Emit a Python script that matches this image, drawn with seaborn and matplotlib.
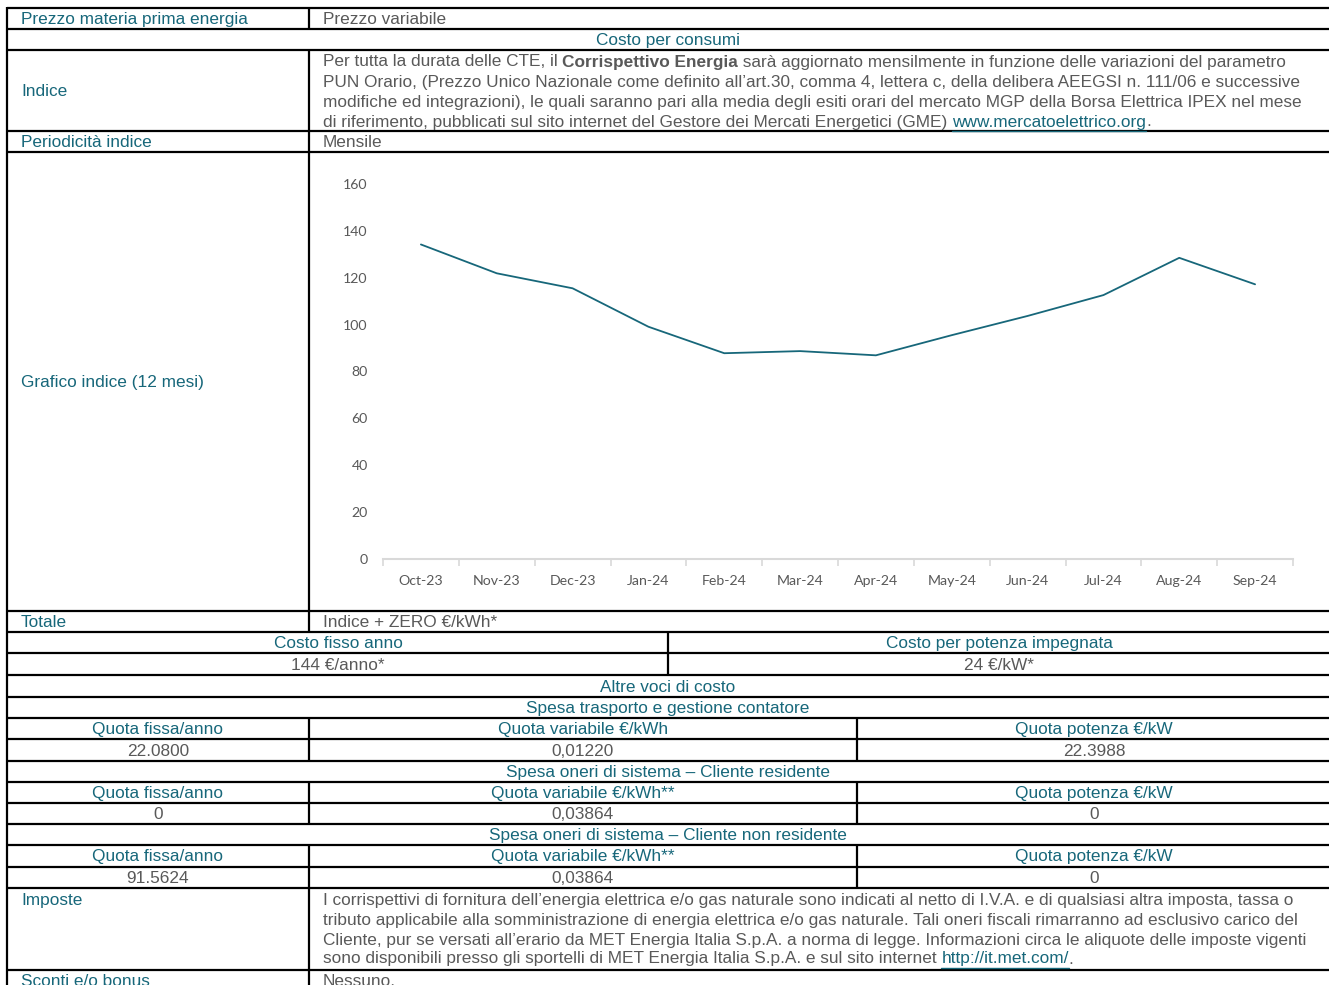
import matplotlib
matplotlib.use("Agg")
import matplotlib.pyplot as plt
import seaborn as sns
import pandas as pd
from matplotlib.ticker import FixedLocator, NullFormatter

sns.set_theme(style="white")
plt.rcParams['font.family'] = ['Liberation Sans', 'DejaVu Sans']

# ---- data ----
months = ["Oct-23", "Nov-23", "Dec-23", "Jan-24", "Feb-24", "Mar-24",
          "Apr-24", "May-24", "Jun-24", "Jul-24", "Aug-24", "Sep-24"]
pun = [134.2, 121.9, 115.5, 99.1, 87.8, 88.7, 86.9, 95.5, 103.7, 112.6, 128.5, 117.2]
y_ticks = [0, 20, 40, 60, 80, 100, 120, 140, 160]

W, H = 1329, 985
TEAL = "#17677a"
GREY = "#595959"
FS = 12.45
DY = 1.0

fig = plt.figure(figsize=(W / 100, H / 100), dpi=100)
tab = fig.add_axes([0, 0, 1, 1])
tab.set_xlim(0, W)
tab.set_ylim(H, 0)
tab.axis("off")

renderer = fig.canvas.get_renderer()


def hline(y, x0=7, x1=W):
    tab.plot([x0, x1], [y, y], color="black", lw=1.6, solid_capstyle="butt")


def vline(x, y0, y1):
    tab.plot([x, x], [y0, y1], color="black", lw=1.6, solid_capstyle="butt")


def txt(x, y, s, color=GREY, ha="left", **kw):
    return tab.text(x, y + DY, s, color=color, ha=ha, va="center", fontsize=FS, **kw)


def runs(x, y, parts):
    """parts: list of (text, color, weight, underline)"""
    inv = tab.transData.inverted()
    y = y + DY
    for s, color, weight, ul in parts:
        t = tab.text(x, y, s, color=color, ha="left", va="center",
                     fontsize=FS, fontweight=weight)
        bb = t.get_window_extent(renderer=renderer)
        (x0, _), (x1, _) = inv.transform([(bb.x0, bb.y0), (bb.x1, bb.y1)])
        if ul:
            tab.plot([x0, x1], [y + 9, y + 9], color=color, lw=1.0)
        x = x1


# ---- horizontal lines ----
for y in [8, 29, 50, 131, 152, 611, 632, 653, 675, 697, 718, 739, 761,
          782, 803, 824, 845, 867, 888, 970]:
    hline(y)

# ---- vertical lines ----
vline(7, 7, H)
vline(309, 8, 29)
vline(309, 50, 632)
vline(668, 632, 675)
for (a, b) in [(718, 761), (782, 824), (845, 888)]:
    vline(309, a, b)
    vline(857, a, b)
vline(309, 888, H)

# ---- text ----
LX, RX = 21, 323
txt(LX, 18.5, "Prezzo materia prima energia", TEAL)
txt(RX, 18.5, "Prezzo variabile")
txt(668, 39.5, "Costo per consumi", TEAL, ha="center")

txt(LX, 91, "Indice", TEAL)
runs(RX, 61, [("Per tutta la durata delle CTE, il ", GREY, "normal", False),
              ("Corrispettivo Energia", GREY, "bold", False),
              (" sarà aggiornato mensilmente in funzione delle variazioni del parametro", GREY, "normal", False)])
txt(RX, 81, "PUN Orario, (Prezzo Unico Nazionale come definito all’art.30, comma 4, lettera c, della delibera AEEGSI n. 111/06 e successive")
txt(RX, 101, "modifiche ed integrazioni), le quali saranno pari alla media degli esiti orari del mercato MGP della Borsa Elettrica IPEX nel mese")
runs(RX, 121, [("di riferimento, pubblicati sul sito internet del Gestore dei Mercati Energetici (GME) ", GREY, "normal", False),
               ("www.mercatoelettrico.org", TEAL, "normal", True),
               (".", GREY, "normal", False)])

txt(LX, 141.5, "Periodicità indice", TEAL)
txt(RX, 141.5, "Mensile")
txt(LX, 382, "Grafico indice (12 mesi)", TEAL)

txt(LX, 621.5, "Totale", TEAL)
txt(RX, 621.5, "Indice + ZERO €/kWh*")
txt(338, 642.5, "Costo fisso anno", TEAL, ha="center")
txt(999, 642.5, "Costo per potenza impegnata", TEAL, ha="center")
txt(338, 664, "144 €/anno*", ha="center")
txt(999, 664, "24 €/kW*", ha="center")
txt(668, 686, "Altre voci di costo", TEAL, ha="center")
txt(668, 707.5, "Spesa trasporto e gestione contatore", TEAL, ha="center")

C1, C2, C3 = 158, 583, 1094
txt(C1, 728.5, "Quota fissa/anno", TEAL, ha="center")
txt(C2, 728.5, "Quota variabile €/kWh", TEAL, ha="center")
txt(C3, 728.5, "Quota potenza €/kW", TEAL, ha="center")
txt(C1, 750, "22.0800", ha="center")
txt(C2, 750, "0,01220", ha="center")
txt(C3, 750, "22.3988", ha="center")

txt(668, 771.5, "Spesa oneri di sistema – Cliente residente", TEAL, ha="center")
txt(C1, 792.5, "Quota fissa/anno", TEAL, ha="center")
txt(C2, 792.5, "Quota variabile €/kWh**", TEAL, ha="center")
txt(C3, 792.5, "Quota potenza €/kW", TEAL, ha="center")
txt(C1, 813.5, "0", ha="center")
txt(C2, 813.5, "0,03864", ha="center")
txt(C3, 813.5, "0", ha="center")

txt(668, 834.5, "Spesa oneri di sistema – Cliente non residente", TEAL, ha="center")
txt(C1, 856, "Quota fissa/anno", TEAL, ha="center")
txt(C2, 856, "Quota variabile €/kWh**", TEAL, ha="center")
txt(C3, 856, "Quota potenza €/kW", TEAL, ha="center")
txt(C1, 877.5, "91.5624", ha="center")
txt(C2, 877.5, "0,03864", ha="center")
txt(C3, 877.5, "0", ha="center")

txt(LX, 899, "Imposte", TEAL)
txt(RX, 899, "I corrispettivi di fornitura dell’energia elettrica e/o gas naturale sono indicati al netto di I.V.A. e di qualsiasi altra imposta, tassa o")
txt(RX, 919, "tributo applicabile alla somministrazione di energia elettrica e/o gas naturale. Tali oneri fiscali rimarranno ad esclusivo carico del")
txt(RX, 939, "Cliente, pur se versati all’erario da MET Energia Italia S.p.A. a norma di legge. Informazioni circa le aliquote delle imposte vigenti")
runs(RX, 958, [("sono disponibili presso gli sportelli di MET Energia Italia S.p.A. e sul sito internet ", GREY, "normal", False),
               ("http://it.met.com/", TEAL, "normal", True),
               (".", GREY, "normal", False)])
txt(LX, 980, "Sconti e/o bonus", TEAL)
txt(RX, 980, "Nessuno.")

# ---- chart ----
ax_l, ax_r, ax_t, ax_b = 383, 1293, 184, 559
ax = fig.add_axes([ax_l / W, (H - ax_b) / H, (ax_r - ax_l) / W, (ax_b - ax_t) / H])
ax.patch.set_alpha(0)
df = pd.DataFrame({"month": months, "pun": pun})
sns.lineplot(data=df, x="month", y="pun", ax=ax, color=TEAL, lw=1.3, sort=False)
ax.set_xlim(-0.5, len(months) - 0.5)
ax.set_ylim(0, 160)
ax.set_yticks(y_ticks)
ax.set_xlabel("")
ax.set_ylabel("")
for s in ["top", "right", "left"]:
    ax.spines[s].set_visible(False)
ax.spines["bottom"].set_color("#d9d9d9")
ax.spines["bottom"].set_linewidth(1.5)
ax.grid(False)
ax.xaxis.set_minor_locator(FixedLocator([i - 0.5 for i in range(len(months) + 1)]))
ax.xaxis.set_minor_formatter(NullFormatter())
ax.tick_params(axis="x", which="minor", length=5, width=1.2, color="#d9d9d9", direction="out", bottom=True)
ax.tick_params(axis="x", which="major", length=0, pad=11.5)
ax.tick_params(axis="y", length=0, pad=11)
for lab in ax.get_xticklabels() + ax.get_yticklabels():
    lab.set_fontfamily("Lato")
    lab.set_fontsize(10.2)
    lab.set_color(GREY)

fig.savefig("out.png", dpi=100)
